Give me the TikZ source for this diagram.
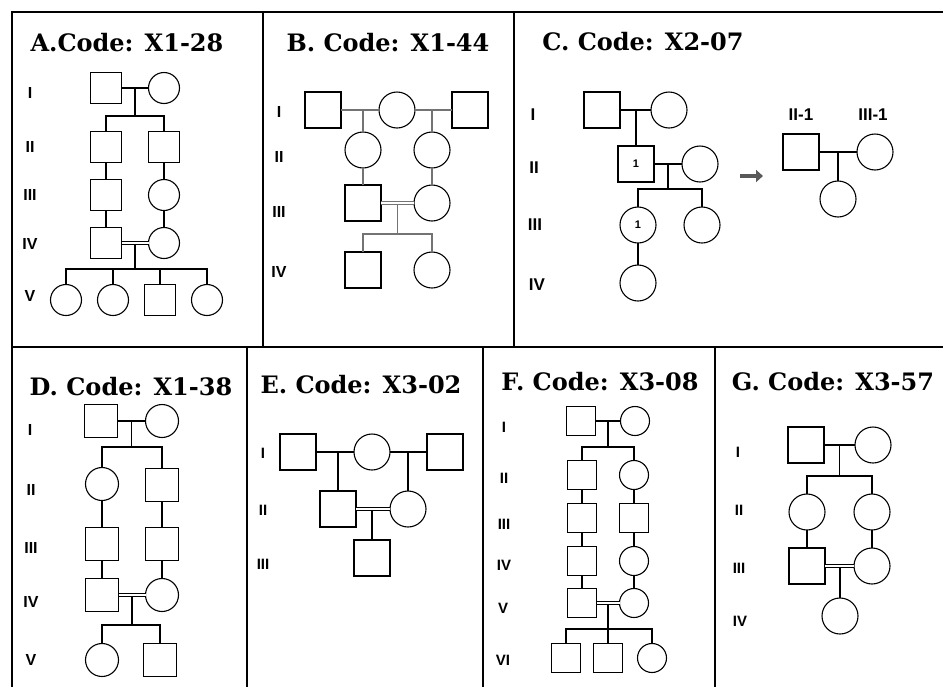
\documentclass[tikz,border=0pt]{standalone}
\usepackage{fontspec}
\setsansfont{Liberation Sans}
\newfontfamily\titlefont{DejaVu Serif}
\usetikzlibrary{calc,arrows.meta}
\begin{document}
\begin{tikzpicture}[x=1pt,y=-1pt,
  sq/.style={draw, rectangle, line width=1.1pt, minimum size=#1, inner sep=0pt, outer sep=0pt},
  sq/.default=31,
  ci/.style={draw, circle, line width=1.1pt, minimum size=#1, inner sep=0pt, outer sep=0pt},
  ci/.default=31,
  ln/.style={line width=1.1pt},
  dbl/.style={double, double distance=2.2pt, line width=1.2pt},
  border/.style={line width=2.2pt, line cap=rect},
  title/.style={font=\titlefont\bfseries\fontsize{24}{28}\selectfont, inner sep=0pt},
  gen/.style={font=\sffamily\bfseries\fontsize{#1}{#1}\selectfont, inner sep=0pt},
  gen/.default=16,
  num/.style={font=\sffamily\bfseries\fontsize{11}{11}\selectfont}
]
\useasboundingbox (0,0) rectangle (943,686);
% ---------- borders ----------
\draw[border] (12,686) -- (12,12) -- (943,12);
\draw[border] (12,347) -- (943,347);
\draw[border] (263,12) -- (263,347);
\draw[border] (514,12) -- (514,347);
\draw[border] (247,347) -- (247,686);
\draw[border] (483,347) -- (483,686);
\draw[border] (715,347) -- (715,686);

% ================= A =================
\node[title] (tA) at (127,43) {A.Code: X1-28};
\node[gen] (gA1) at (30,93) {I};
\node[gen] (gA2) at (30,147) {II};
\node[gen] (gA3) at (30,195) {III};
\node[gen] (gA4) at (30,244) {IV};
\node[gen] (gA5) at (30,296) {V};
\node[sq] (A1a) at (106,88) {};
\node[ci] (A1b) at (164,88) {};
\node[sq] (A2a) at (106,147) {};
\node[sq] (A2b) at (164,147) {};
\node[sq] (A3a) at (106,195) {};
\node[ci] (A3b) at (164,195) {};
\node[sq] (A4a) at (106,243) {};
\node[ci] (A4b) at (164,243) {};
\node[ci] (A5a) at (66,300) {};
\node[ci] (A5b) at (113,300) {};
\node[sq] (A5c) at (160,300) {};
\node[ci] (A5d) at (207,300) {};
\draw[ln] (A1a.east) -- (A1b.west);
\coordinate (A1m) at ($(A1a.east)!0.5!(A1b.west)$);
\coordinate (A1s) at (A1m |- 0,116);
\draw[ln] (A1m) -- (A1s);
\draw[ln] (A2a.north) |- (A1s) -| (A2b.north);
\draw[ln] (A2a.south) -- (A3a.north);
\draw[ln] (A3a.south) -- (A4a.north);
\draw[ln] (A2b.south) -- (A3b.north);
\draw[ln] (A3b.south) -- (A4b.north);
\draw[dbl] (A4a.east) -- (A4b.west);
\coordinate (A4m) at ($(A4a.east)!0.5!(A4b.west)$);
\coordinate (A4s) at (A4m |- 0,269);
\draw[ln] ([yshift=-1.7pt]A4m) -- (A4s);
\draw[ln] (A5a.north) |- (A4s) -| (A5d.north);
\draw[ln] (A5b.north) -- (A5b.north |- A4s);
\draw[ln] (A5c.north) -- (A5c.north |- A4s);

% ================= B =================
\begin{scope}[sq/.default=36, ci/.default=36, ln/.style={line width=1.1pt, draw=black!55}]
\node[title] (tB) at (388,43) {B. Code: X1-44};
\node[gen] (gB1) at (279,112) {I};
\node[gen] (gB2) at (279,157) {II};
\node[gen] (gB3) at (279,212) {III};
\node[gen] (gB4) at (279,272) {IV};
\node[sq] (B1a) at (323,110) {};
\node[ci] (B1b) at (397,110) {};
\node[sq] (B1c) at (470,110) {};
\node[ci] (B2a) at (363,150) {};
\node[ci] (B2b) at (432,150) {};
\node[sq] (B3a) at (363,203) {};
\node[ci] (B3b) at (432,203) {};
\node[sq] (B4a) at (363,270) {};
\node[ci] (B4b) at (432,270) {};
\draw[ln] (B1a.east) -- (B1b.west);
\draw[ln] (B1b.east) -- (B1c.west);
\draw[ln] (B2a.north) -- (B2a.north |- B1a.east);
\draw[ln] (B2b.north) -- (B2b.north |- B1c.west);
\draw[ln] (B2a.south) -- (B3a.north);
\draw[ln] (B2b.south) -- (B3b.north);
\draw[dbl, draw=black!55] (B3a.east) -- (B3b.west);
\coordinate (B3m) at ($(B3a.east)!0.5!(B3b.west)$);
\coordinate (B3s) at (B3m |- 0,234);
\draw[ln] ([yshift=-1.7pt]B3m) -- (B3s);
\draw[ln] (B4a.north) |- (B3s) -| (B4b.north);
\end{scope}

% ================= C =================
\begin{scope}[sq/.default=36, ci/.default=36]
\node[title] (tC) at (643,42) {C. Code: X2-07};
\node[gen=17] (gC1) at (533,115) {I};
\node[gen=17] (gC2) at (534,168) {II};
\node[gen=17] (gC3) at (535,225) {III};
\node[gen=17] (gC4) at (537,285) {IV};
\node[sq] (C1a) at (602,110) {};
\node[ci] (C1b) at (669,110) {};
\node[sq, num] (C2a) at (636,164) {1};
\node[ci] (C2b) at (700,164) {};
\node[ci, num] (C3a) at (638,225) {1};
\node[ci] (C3b) at (702,225) {};
\node[ci] (C4a) at (638,283) {};
\draw[ln] (C1a.east) -- (C1b.west);
\draw[ln] (C2a.north) -- (C2a.north |- C1a.east);
\draw[ln] (C2a.east) -- (C2b.west);
\coordinate (C2m) at ($(C2a.east)!0.5!(C2b.west)$);
\coordinate (C2s) at (C2m |- 0,189);
\draw[ln] (C2m) -- (C2s);
\draw[ln] (C3a.north) |- (C2s) -| (C3b.north);
\draw[ln] (C3a.south) -- (C4a.north);
% arrow
\coordinate (Carr1) at (740,176);
\coordinate (Carr2) at (763,176);
\draw[line width=4.5pt, draw=black!65, -{Triangle[length=7pt,width=12pt]}] (Carr1) -- (Carr2);
% right pedigree
\node[gen=17] (lC1) at (801,115) {II-1};
\node[gen=17] (lC2) at (873,115) {III-1};
\node[sq] (C5a) at (801,152) {};
\node[ci] (C5b) at (875,152) {};
\node[ci] (C6) at (838,199) {};
\draw[ln] (C5a.east) -- (C5b.west);
\draw[ln] (C6.north) -- (C6.north |- C5a.east);
\end{scope}

% ================= D =================
\begin{scope}[sq/.default=33, ci/.default=33]
\node[title] (tD) at (131,387) {D. Code: X1-38};
\node[gen] (gD1) at (30,430) {I};
\node[gen] (gD2) at (31,490) {II};
\node[gen] (gD3) at (31,548) {III};
\node[gen] (gD4) at (31,602) {IV};
\node[gen] (gD5) at (31,660) {V};
\node[sq] (D1a) at (101,421) {};
\node[ci] (D1b) at (162,421) {};
\node[ci] (D2a) at (102,484) {};
\node[sq] (D2b) at (162,485) {};
\node[sq] (D3a) at (102,544) {};
\node[sq] (D3b) at (162,544) {};
\node[sq] (D4a) at (102,595) {};
\node[ci] (D4b) at (162,595) {};
\node[ci] (D5a) at (102,660) {};
\node[sq] (D5b) at (160,660) {};
\draw[ln] (D1a.east) -- (D1b.west);
\coordinate (D1m) at ($(D1a.east)!0.5!(D1b.west)$);
\coordinate (D1s) at (D1m |- 0,447);
\draw[ln] (D1m) -- (D1s);
\draw[ln] (D2a.north) |- (D1s) -| (D2b.north);
\draw[ln] (D2a.south) -- (D3a.north);
\draw[ln] (D3a.south) -- (D4a.north);
\draw[ln] (D2b.south) -- (D3b.north);
\draw[ln] (D3b.south) -- (D4b.north);
\draw[dbl] (D4a.east) -- (D4b.west);
\coordinate (D4m) at ($(D4a.east)!0.5!(D4b.west)$);
\coordinate (D4s) at (D4m |- 0,625);
\draw[ln] ([yshift=-1.7pt]D4m) -- (D4s);
\draw[ln] (D5a.north) |- (D4s) -| (D5b.north);
\end{scope}

% ================= E =================
\begin{scope}[sq/.default=36, ci/.default=36]
\node[title] (tE) at (361,385) {E. Code: X3-02};
\node[gen=15] (gE1) at (263,453) {I};
\node[gen=15] (gE2) at (263,510) {II};
\node[gen=15] (gE3) at (263,564) {III};
\node[sq] (E1a) at (298,452) {};
\node[ci] (E1b) at (372,452) {};
\node[sq] (E1c) at (445,452) {};
\node[sq] (E2a) at (338,509) {};
\node[ci] (E2b) at (408,509) {};
\node[sq] (E3) at (372,558) {};
\draw[ln] (E1a.east) -- (E1b.west);
\draw[ln] (E1b.east) -- (E1c.west);
\draw[ln] (E2a.north) -- (E2a.north |- E1a.east);
\draw[ln] (E2b.north) -- (E2b.north |- E1c.west);
\draw[dbl] (E2a.east) -- (E2b.west);
\draw[ln] (E3.north) -- ([yshift=-1.7pt]E3.north |- E2a.east);
\end{scope}

% ================= F =================
\begin{scope}[sq/.default=29, ci/.default=29]
\node[title] (tF) at (600,382) {F. Code: X3-08};
\node[gen=15] (gF1) at (504,427) {I};
\node[gen=15] (gF2) at (504,478) {II};
\node[gen=15] (gF3) at (504,524) {III};
\node[gen=15] (gF4) at (504,565) {IV};
\node[gen=15] (gF5) at (503,608) {V};
\node[gen=15] (gF6) at (503,660) {VI};
\node[sq] (F1a) at (581,421) {};
\node[ci] (F1b) at (635,421) {};
\node[sq] (F2a) at (582,475) {};
\node[ci] (F2b) at (634,475) {};
\node[sq] (F3a) at (582,518) {};
\node[sq] (F3b) at (634,518) {};
\node[sq] (F4a) at (582,561) {};
\node[ci] (F4b) at (634,561) {};
\node[sq] (F5a) at (582,603) {};
\node[ci] (F5b) at (634,603) {};
\node[sq] (F6a) at (566,658) {};
\node[sq] (F6b) at (608,658) {};
\node[ci] (F6c) at (652,658) {};
\draw[ln] (F1a.east) -- (F1b.west);
\coordinate (F1m) at ($(F1a.east)!0.5!(F1b.west)$);
\coordinate (F1s) at (F1m |- 0,447);
\draw[ln] (F1m) -- (F1s);
\draw[ln] (F2a.north) |- (F1s) -| (F2b.north);
\draw[ln] (F2a.south) -- (F3a.north);
\draw[ln] (F3a.south) -- (F4a.north);
\draw[ln] (F4a.south) -- (F5a.north);
\draw[ln] (F2b.south) -- (F3b.north);
\draw[ln] (F3b.south) -- (F4b.north);
\draw[ln] (F4b.south) -- (F5b.north);
\draw[dbl] (F5a.east) -- (F5b.west);
\coordinate (F5m) at ($(F5a.east)!0.5!(F5b.west)$);
\coordinate (F5s) at (F5m |- 0,629);
\draw[ln] ([yshift=-1.7pt]F5m) -- (F5s);
\draw[ln] (F6a.north) |- (F5s) -| (F6c.north);
\draw[ln] (F6b.north) -- (F6b.north |- F5s);
\end{scope}

% ================= G =================
\begin{scope}[sq/.default=36, ci/.default=36]
\node[title] (tG) at (833,382) {G. Code: X3-57};
\node[gen=15] (gG1) at (738,452) {I};
\node[gen=15] (gG2) at (739,510) {II};
\node[gen=15] (gG3) at (739,568) {III};
\node[gen=15] (gG4) at (740,621) {IV};
\node[sq] (G1a) at (806,445) {};
\node[ci] (G1b) at (873,445) {};
\node[ci] (G2a) at (807,512) {};
\node[ci] (G2b) at (872,512) {};
\node[sq] (G3a) at (807,566) {};
\node[ci] (G3b) at (872,566) {};
\node[ci] (G4) at (840,616) {};
\draw[ln] (G1a.east) -- (G1b.west);
\coordinate (G1m) at ($(G1a.east)!0.5!(G1b.west)$);
\coordinate (G1s) at (G1m |- 0,476);
\draw[ln] (G1m) -- (G1s);
\draw[ln] (G2a.north) |- (G1s) -| (G2b.north);
\draw[ln] (G2a.south) -- (G3a.north);
\draw[ln] (G2b.south) -- (G3b.north);
\draw[dbl] (G3a.east) -- (G3b.west);
\draw[ln] (G4.north) -- ([yshift=-1.7pt]G4.north |- G3a.east);
\end{scope}
\end{tikzpicture}
\end{document}
